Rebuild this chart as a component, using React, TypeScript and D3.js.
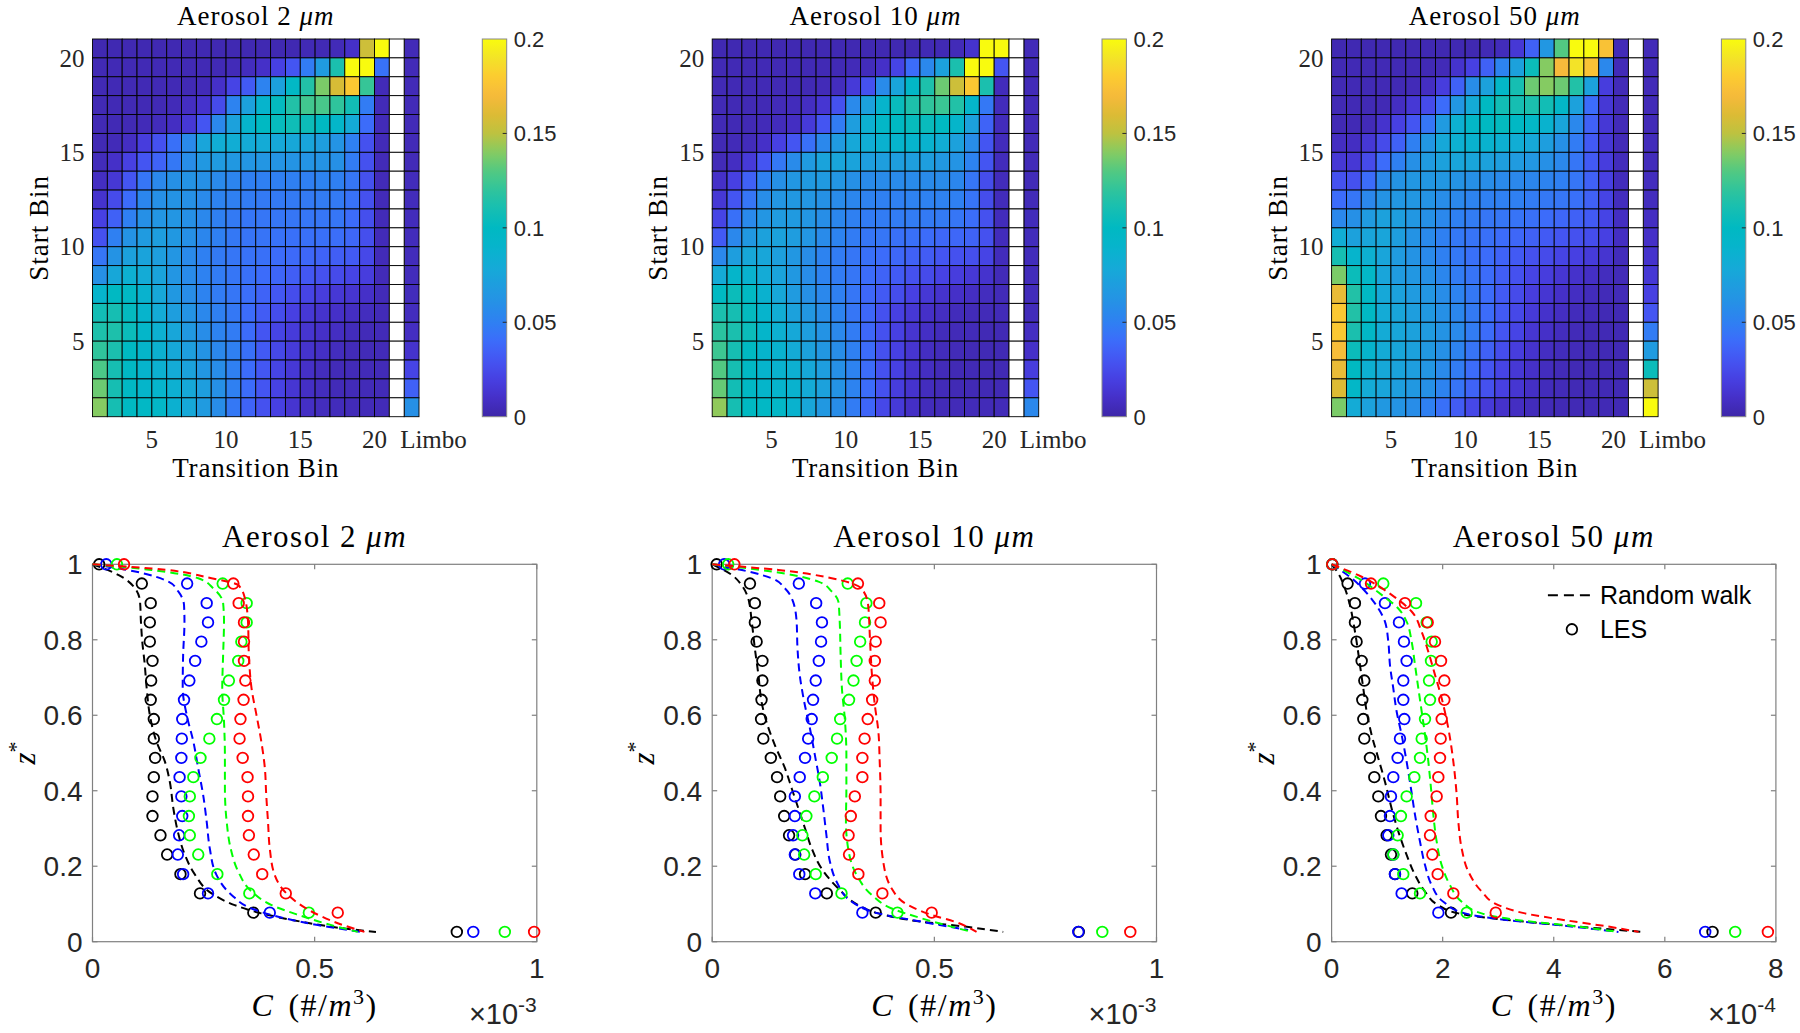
import React from "react";
import * as d3 from "d3";

// ================= DATA =================
const panelSizes = ["2", "10", "50"];
const binTicks = [5, 10, 15, 20];
const colorTicks = [0, 0.05, 0.1, 0.15, 0.2];
const colorTickLabels = ["0", "0.05", "0.1", "0.15", "0.2"];

// parula-like colormap stops (t = 0 .. 1 every 0.05)
const parulaStops = [
  "#3E26A8", "#4530C8", "#4740E2", "#4455F2", "#3C6CFA", "#2F80F2", "#2690E6",
  "#1E9EDE", "#14ABD6", "#06B4CC", "#00B9C2", "#16BEB2", "#2FC49C", "#52C982",
  "#85CB62", "#BDC240", "#DDBB34", "#F6BA3B", "#FCCB30", "#F3E328", "#F9FB0E",
];

// Transition matrices: rows = start bin 20 (top) ... 1 (bottom);
// columns = transition bins 1..20, then Limbo
const hm2um: number[][] = [
  [.003,.003,.003,.003,.003,.003,.003,.003,.003,.003,.003,.003,.003,.003,.004,.004,.005,.01,.155,.21,.005],
  [.004,.004,.004,.004,.004,.004,.004,.004,.004,.005,.007,.01,.02,.03,.048,.068,.112,.2,.2,.043,.005],
  [.004,.004,.004,.004,.004,.004,.004,.005,.01,.022,.032,.052,.072,.097,.115,.138,.158,.178,.122,.005,.005],
  [.004,.004,.004,.004,.004,.005,.008,.012,.025,.052,.072,.09,.102,.115,.125,.127,.12,.108,.048,.005,.005],
  [.004,.004,.004,.005,.006,.008,.015,.03,.055,.072,.09,.1,.103,.107,.106,.1,.093,.08,.04,.005,.005],
  [.004,.005,.008,.018,.028,.042,.056,.075,.082,.082,.08,.08,.078,.077,.075,.07,.063,.05,.028,.005,.005],
  [.006,.01,.02,.03,.036,.046,.058,.066,.068,.066,.064,.064,.063,.063,.063,.062,.06,.048,.028,.005,.005],
  [.008,.015,.03,.045,.055,.06,.062,.06,.056,.053,.05,.05,.05,.05,.05,.052,.05,.045,.028,.005,.006],
  [.012,.025,.04,.054,.06,.062,.06,.056,.052,.05,.048,.047,.047,.047,.047,.048,.047,.043,.028,.005,.006],
  [.02,.035,.05,.06,.064,.064,.06,.055,.05,.047,.045,.045,.045,.045,.045,.045,.045,.04,.027,.005,.006],
  [.028,.05,.062,.068,.07,.066,.06,.054,.05,.046,.044,.044,.043,.042,.042,.042,.041,.038,.027,.005,.006],
  [.045,.062,.072,.074,.07,.064,.056,.05,.047,.045,.043,.042,.04,.039,.038,.036,.034,.032,.024,.005,.006],
  [.06,.077,.085,.08,.074,.064,.057,.051,.048,.045,.042,.04,.037,.034,.031,.028,.025,.022,.018,.005,.006],
  [.09,.1,.098,.088,.077,.066,.058,.052,.048,.045,.041,.036,.031,.026,.022,.018,.015,.013,.01,.005,.006],
  [.108,.11,.102,.09,.08,.07,.062,.055,.05,.046,.04,.033,.026,.02,.015,.012,.01,.008,.007,.005,.007],
  [.113,.113,.105,.093,.085,.076,.066,.058,.052,.048,.04,.03,.022,.017,.013,.01,.008,.006,.005,.005,.008],
  [.12,.112,.1,.092,.086,.078,.07,.062,.055,.05,.042,.032,.024,.017,.012,.009,.007,.005,.005,.005,.012],
  [.128,.11,.098,.09,.086,.08,.073,.065,.058,.05,.04,.031,.022,.015,.01,.007,.005,.005,.005,.005,.022],
  [.135,.11,.098,.092,.09,.085,.078,.07,.06,.05,.04,.03,.021,.014,.009,.007,.005,.005,.005,.005,.035],
  [.14,.11,.1,.097,.095,.086,.078,.068,.058,.046,.036,.028,.02,.013,.009,.007,.006,.005,.005,.005,.06],
];

const hm10um: number[][] = [
  [.003,.003,.003,.003,.003,.003,.003,.003,.003,.003,.003,.003,.003,.003,.004,.004,.005,.012,.205,.21,.005],
  [.004,.004,.004,.004,.004,.004,.004,.004,.004,.005,.006,.01,.022,.04,.055,.072,.112,.2,.2,.03,.005],
  [.004,.004,.004,.004,.004,.004,.004,.005,.007,.016,.028,.057,.075,.096,.113,.135,.155,.178,.112,.006,.005],
  [.004,.004,.004,.004,.005,.006,.008,.014,.028,.056,.072,.09,.104,.113,.12,.123,.115,.092,.046,.006,.005],
  [.004,.004,.004,.005,.006,.008,.016,.03,.048,.07,.085,.095,.1,.103,.104,.1,.092,.072,.036,.006,.005],
  [.004,.005,.006,.01,.02,.03,.042,.055,.068,.078,.082,.087,.09,.09,.088,.082,.072,.058,.03,.006,.005],
  [.005,.008,.016,.03,.046,.057,.068,.074,.075,.074,.07,.07,.07,.07,.07,.066,.063,.052,.03,.006,.005],
  [.01,.02,.035,.05,.06,.065,.067,.067,.064,.06,.057,.057,.057,.057,.057,.057,.054,.045,.026,.006,.005],
  [.015,.03,.045,.058,.064,.066,.064,.061,.057,.054,.051,.05,.05,.051,.051,.051,.05,.044,.026,.006,.005],
  [.022,.042,.056,.064,.068,.067,.064,.059,.054,.05,.048,.048,.048,.048,.047,.047,.045,.041,.028,.006,.006],
  [.032,.055,.066,.072,.073,.069,.064,.057,.052,.048,.045,.045,.042,.042,.04,.038,.038,.036,.028,.006,.006],
  [.055,.07,.077,.076,.071,.065,.058,.052,.048,.045,.042,.04,.038,.035,.033,.03,.028,.027,.022,.006,.006],
  [.08,.092,.088,.08,.074,.066,.058,.052,.048,.045,.04,.036,.032,.028,.025,.021,.018,.015,.012,.005,.006],
  [.1,.105,.099,.087,.077,.068,.06,.055,.05,.045,.038,.032,.026,.02,.015,.012,.01,.008,.007,.005,.006],
  [.112,.11,.102,.09,.082,.072,.065,.058,.052,.045,.038,.028,.02,.015,.01,.008,.006,.005,.005,.005,.006],
  [.118,.112,.105,.092,.085,.078,.07,.062,.055,.048,.038,.028,.02,.013,.009,.006,.005,.005,.004,.004,.008],
  [.124,.11,.1,.09,.088,.08,.072,.065,.058,.05,.04,.028,.02,.013,.008,.006,.005,.004,.004,.004,.01],
  [.13,.11,.098,.09,.088,.085,.078,.07,.06,.052,.04,.028,.02,.012,.008,.005,.004,.004,.004,.004,.018],
  [.134,.108,.098,.092,.09,.088,.08,.072,.062,.052,.04,.028,.018,.012,.007,.005,.004,.004,.004,.004,.03],
  [.142,.11,.1,.097,.095,.088,.076,.066,.058,.048,.037,.024,.016,.009,.006,.005,.005,.005,.005,.005,.055],
];

const hm50um: number[][] = [
  [.003,.003,.003,.003,.003,.003,.003,.003,.003,.003,.004,.006,.015,.035,.065,.13,.205,.205,.175,.005,.005],
  [.004,.004,.004,.004,.004,.004,.004,.005,.012,.02,.035,.052,.072,.105,.14,.17,.19,.175,.055,.005,.005],
  [.004,.004,.004,.004,.004,.005,.008,.018,.035,.058,.072,.095,.11,.135,.14,.135,.115,.072,.018,.005,.005],
  [.004,.004,.004,.004,.008,.015,.025,.04,.065,.08,.1,.108,.11,.112,.108,.095,.072,.04,.015,.005,.005],
  [.004,.004,.005,.012,.02,.03,.045,.068,.085,.095,.1,.102,.098,.095,.088,.075,.055,.035,.015,.005,.005],
  [.008,.008,.015,.025,.035,.05,.065,.078,.085,.088,.088,.085,.082,.078,.07,.06,.048,.032,.015,.005,.006],
  [.015,.015,.025,.04,.05,.06,.068,.072,.075,.075,.072,.07,.068,.065,.06,.055,.045,.032,.018,.006,.006],
  [.028,.028,.04,.055,.062,.065,.065,.065,.062,.06,.058,.056,.055,.054,.052,.05,.045,.035,.02,.006,.007],
  [.04,.045,.055,.062,.065,.065,.062,.058,.055,.052,.05,.05,.05,.048,.046,.045,.042,.035,.022,.007,.007],
  [.055,.06,.068,.072,.07,.065,.06,.055,.05,.048,.045,.045,.044,.042,.04,.038,.035,.032,.022,.008,.008],
  [.082,.072,.075,.075,.07,.062,.056,.05,.046,.044,.042,.04,.038,.035,.032,.03,.028,.026,.02,.008,.01],
  [.11,.09,.085,.075,.068,.062,.056,.05,.046,.042,.04,.036,.032,.028,.025,.022,.02,.017,.013,.006,.012],
  [.138,.105,.095,.075,.068,.065,.06,.054,.048,.044,.04,.034,.028,.022,.018,.014,.011,.009,.007,.005,.015],
  [.165,.115,.098,.078,.072,.068,.064,.058,.052,.046,.04,.032,.025,.018,.014,.01,.008,.006,.005,.005,.02],
  [.178,.115,.098,.08,.075,.07,.066,.06,.054,.047,.04,.032,.024,.016,.011,.008,.006,.005,.004,.004,.03],
  [.178,.112,.096,.08,.076,.072,.068,.062,.056,.048,.04,.03,.022,.014,.01,.007,.005,.004,.004,.004,.048],
  [.172,.105,.09,.08,.076,.072,.066,.06,.052,.044,.035,.026,.018,.012,.008,.006,.005,.004,.004,.004,.068],
  [.165,.1,.085,.078,.074,.07,.064,.056,.048,.04,.03,.022,.015,.01,.007,.005,.004,.004,.004,.004,.105],
  [.16,.095,.08,.075,.07,.066,.06,.052,.044,.036,.028,.02,.014,.009,.006,.005,.004,.004,.004,.004,.155],
  [.138,.08,.072,.066,.063,.058,.05,.042,.033,.024,.016,.011,.008,.006,.005,.004,.004,.004,.004,.004,.205],
];

// Vertical profiles
const zLES = [1, 0.949, 0.897, 0.846, 0.795, 0.744, 0.692, 0.641, 0.59, 0.538, 0.487, 0.436, 0.385, 0.333, 0.282, 0.231, 0.179, 0.128, 0.077, 0.026];
const profileColors = ["#000000", "#0000ff", "#00ff00", "#ff0000"];
const xMaxes = [1, 1, 8];
const xTickSets = [[0, 0.5, 1], [0, 0.5, 1], [0, 2, 4, 6, 8]];
const exponents = ["-3", "-3", "-4"];
const zTicks = [0, 0.2, 0.4, 0.6, 0.8, 1];

// LES concentrations (units of the axis multiplier), ordered as zLES
const les2Black = [0.015,0.111,0.131,0.129,0.129,0.135,0.132,0.131,0.138,0.138,0.141,0.138,0.135,0.135,0.153,0.168,0.198,0.242,0.362,0.820];
const les2Blue = [0.031,0.213,0.257,0.260,0.245,0.231,0.218,0.206,0.202,0.201,0.200,0.196,0.200,0.202,0.195,0.192,0.204,0.260,0.399,0.857];
const les2Green = [0.055,0.293,0.347,0.347,0.335,0.328,0.307,0.296,0.280,0.263,0.243,0.227,0.219,0.217,0.219,0.238,0.281,0.353,0.487,0.928];
const les2Red = [0.071,0.317,0.329,0.341,0.341,0.341,0.344,0.340,0.333,0.331,0.338,0.349,0.350,0.350,0.352,0.363,0.382,0.435,0.552,0.994];

const les10Black = [0.010,0.085,0.096,0.096,0.100,0.113,0.113,0.111,0.110,0.115,0.132,0.146,0.153,0.162,0.173,0.187,0.209,0.258,0.368,0.825];
const les10Blue = [0.027,0.195,0.234,0.247,0.245,0.240,0.233,0.227,0.224,0.216,0.209,0.197,0.186,0.186,0.182,0.186,0.196,0.232,0.338,0.824];
const les10Green = [0.036,0.305,0.347,0.344,0.333,0.325,0.318,0.308,0.288,0.281,0.269,0.249,0.230,0.212,0.203,0.207,0.233,0.291,0.417,0.878];
const les10Red = [0.050,0.328,0.376,0.379,0.368,0.366,0.366,0.360,0.350,0.343,0.338,0.338,0.321,0.312,0.307,0.308,0.329,0.383,0.494,0.941];

const les50Black = [0.012,0.288,0.420,0.420,0.450,0.541,0.589,0.553,0.571,0.589,0.691,0.769,0.841,0.889,0.991,1.069,1.141,1.453,2.150,6.859];
const les50Blue = [0.012,0.601,0.961,1.213,1.303,1.351,1.291,1.291,1.309,1.231,1.189,1.111,1.069,1.051,1.021,1.111,1.141,1.261,1.922,6.727];
const les50Green = [0.012,0.931,1.520,1.712,1.802,1.790,1.754,1.772,1.682,1.622,1.592,1.490,1.351,1.249,1.189,1.111,1.291,1.592,2.432,7.267];
const les50Red = [0.012,0.709,1.321,1.730,1.862,1.970,2.030,2.030,1.982,1.964,1.952,1.922,1.892,1.784,1.772,1.814,1.910,2.192,2.955,7.856];

// Random walk profiles: [C, z*]
const rw2Black: [number, number][] = [[0,1],[0.058,0.972],[0.096,0.936],[0.107,0.901],[0.109,0.848],[0.112,0.795],[0.117,0.742],[0.122,0.671],[0.129,0.601],[0.144,0.530],[0.163,0.477],[0.174,0.424],[0.182,0.353],[0.192,0.292],[0.208,0.230],[0.231,0.177],[0.268,0.128],[0.320,0.097],[0.380,0.075],[0.470,0.053],[0.567,0.035],[0.638,0.026]];
const rw2Blue: [number, number][] = [[0,1],[0.096,0.981],[0.171,0.954],[0.193,0.928],[0.206,0.892],[0.207,0.848],[0.204,0.760],[0.203,0.671],[0.212,0.601],[0.227,0.530],[0.238,0.459],[0.249,0.389],[0.257,0.318],[0.264,0.247],[0.279,0.177],[0.313,0.124],[0.358,0.088],[0.433,0.062],[0.507,0.044],[0.605,0.026]];
const rw2Green: [number, number][] = [[0,1],[0.133,0.985],[0.238,0.963],[0.272,0.936],[0.294,0.897],[0.296,0.848],[0.294,0.760],[0.292,0.671],[0.296,0.583],[0.298,0.495],[0.298,0.406],[0.302,0.318],[0.311,0.247],[0.328,0.186],[0.358,0.133],[0.403,0.097],[0.463,0.071],[0.522,0.049],[0.597,0.026]];
const rw2Red: [number, number][] = [[0,1],[0.133,0.989],[0.268,0.963],[0.328,0.945],[0.343,0.910],[0.350,0.848],[0.352,0.760],[0.358,0.671],[0.369,0.601],[0.380,0.530],[0.388,0.459],[0.391,0.389],[0.395,0.318],[0.399,0.247],[0.410,0.177],[0.440,0.124],[0.493,0.080],[0.552,0.049],[0.612,0.026]];

const rw10Black: [number, number][] = [[0,1],[0.044,0.972],[0.066,0.945],[0.081,0.910],[0.089,0.848],[0.096,0.777],[0.104,0.707],[0.111,0.636],[0.122,0.583],[0.141,0.521],[0.164,0.459],[0.179,0.406],[0.194,0.353],[0.209,0.300],[0.224,0.247],[0.246,0.194],[0.284,0.141],[0.329,0.097],[0.374,0.075],[0.471,0.053],[0.569,0.040],[0.655,0.026]];
const rw10Blue: [number, number][] = [[0,1],[0.081,0.981],[0.134,0.963],[0.164,0.936],[0.182,0.901],[0.190,0.848],[0.192,0.777],[0.197,0.707],[0.207,0.636],[0.220,0.565],[0.231,0.495],[0.242,0.424],[0.250,0.353],[0.257,0.283],[0.265,0.212],[0.280,0.159],[0.314,0.106],[0.374,0.075],[0.471,0.053],[0.576,0.031]];
const rw10Green: [number, number][] = [[0,1],[0.134,0.981],[0.239,0.954],[0.269,0.928],[0.284,0.901],[0.287,0.848],[0.289,0.760],[0.292,0.671],[0.299,0.583],[0.302,0.495],[0.302,0.406],[0.301,0.318],[0.306,0.247],[0.325,0.177],[0.359,0.124],[0.404,0.088],[0.471,0.062],[0.584,0.026]];
const rw10Red: [number, number][] = [[0,1],[0.149,0.985],[0.269,0.963],[0.336,0.936],[0.351,0.892],[0.355,0.804],[0.359,0.716],[0.366,0.627],[0.374,0.557],[0.377,0.477],[0.379,0.389],[0.379,0.300],[0.385,0.212],[0.404,0.141],[0.441,0.097],[0.494,0.071],[0.546,0.053],[0.595,0.026]];

const rw50Black: [number, number][] = [[0,1],[0.120,0.976],[0.240,0.936],[0.330,0.892],[0.390,0.848],[0.450,0.795],[0.511,0.733],[0.571,0.671],[0.631,0.610],[0.721,0.548],[0.841,0.486],[0.961,0.424],[1.081,0.353],[1.201,0.292],[1.351,0.230],[1.502,0.177],[1.682,0.133],[1.922,0.097],[2.282,0.075],[2.883,0.062],[3.784,0.049],[4.685,0.037],[5.586,0.026]];
const rw50Blue: [number, number][] = [[0,1],[0.360,0.963],[0.661,0.919],[0.841,0.883],[0.961,0.848],[1.021,0.795],[1.051,0.733],[1.111,0.671],[1.171,0.610],[1.261,0.548],[1.351,0.477],[1.429,0.406],[1.502,0.336],[1.592,0.265],[1.682,0.203],[1.802,0.150],[2.012,0.106],[2.402,0.075],[3.183,0.057],[4.084,0.044],[5.165,0.026]];
const rw50Green: [number, number][] = [[0,1],[0.480,0.963],[0.901,0.919],[1.201,0.883],[1.351,0.848],[1.441,0.795],[1.502,0.733],[1.562,0.671],[1.622,0.610],[1.682,0.548],[1.742,0.477],[1.790,0.406],[1.832,0.336],[1.892,0.265],[1.982,0.203],[2.132,0.150],[2.342,0.106],[2.703,0.075],[3.363,0.057],[4.204,0.044],[5.165,0.026]];
const rw50Red: [number, number][] = [[0,1],[0.541,0.967],[1.081,0.919],[1.441,0.875],[1.622,0.821],[1.742,0.768],[1.862,0.707],[1.982,0.645],[2.102,0.565],[2.192,0.477],[2.252,0.389],[2.282,0.318],[2.342,0.247],[2.462,0.186],[2.703,0.133],[3.003,0.097],[3.483,0.075],[4.204,0.057],[4.985,0.040],[5.526,0.026]];

const heatmaps = [hm2um, hm10um, hm50um];
const lesSets = [
  [les2Black, les2Blue, les2Green, les2Red],
  [les10Black, les10Blue, les10Green, les10Red],
  [les50Black, les50Blue, les50Green, les50Red],
];
const rwSets = [
  [rw2Black, rw2Blue, rw2Green, rw2Red],
  [rw10Black, rw10Blue, rw10Green, rw10Red],
  [rw50Black, rw50Blue, rw50Green, rw50Red],
];

// ================= LAYOUT =================
const W = 1800, H = 1033;
const PANEL_X = [92.5, 712.2, 1331.6];
const HM_W = 326.5, HM_TOP = 39, HM_BOTTOM = 416.7;
const CB_DX = 389.8, CB_W = 24.4;
const PR_W = 444.3, PR_TOP = 564.3, PR_BOTTOM = 941.7;
const SERIF = "'Liberation Serif', 'Times New Roman', serif";
const SANS = "'Liberation Sans', Arial, Helvetica, sans-serif";
const TXT = "#262626";

const tStops = parulaStops.map((_, i) => i / (parulaStops.length - 1));
const parulaT = d3.scaleLinear<string>().domain(tStops).range(parulaStops).interpolate(d3.interpolateRgb).clamp(true);
const colorOf = (v: number) => parulaT(v / 0.2);

function Heatmap({ idx }: { idx: number }) {
  const ox = PANEL_X[idx];
  const data = heatmaps[idx];
  const x = d3.scaleLinear().domain([1, 23]).range([ox, ox + HM_W]);
  const y = d3.scaleLinear().domain([1, 21]).range([HM_BOTTOM, HM_TOP]);
  const cy = d3.scaleLinear().domain([0, 0.2]).range([HM_BOTTOM, HM_TOP]);
  const cells: JSX.Element[] = [];
  data.forEach((row, r) => {
    const bin = 20 - r;
    const y0 = y(bin + 1), y1 = y(bin);
    row.forEach((v, c) => {
      const xi = c < 20 ? c + 1 : 22;
      cells.push(
        <rect key={`c${r}-${c}`} x={x(xi)} y={y0} width={x(xi + 1) - x(xi)} height={y1 - y0}
          fill={colorOf(v)} stroke="#000" strokeWidth={0.9} />
      );
    });
    cells.push(
      <rect key={`w${r}`} x={x(21)} y={y0} width={x(22) - x(21)} height={y1 - y0}
        fill="#fff" stroke="#000" strokeWidth={0.9} />
    );
  });
  const cbx = ox + CB_DX;
  const cx = ox + HM_W / 2;
  return (
    <g>
      <text x={cx} y={25} textAnchor="middle" fontFamily={SERIF} fontSize={27} letterSpacing={1} fill="#000">
        Aerosol {panelSizes[idx]} <tspan fontStyle="italic">μm</tspan>
      </text>
      {cells}
      {binTicks.map((t) => (
        <text key={`yt${t}`} x={ox - 8} y={y(t)} dy="0.35em" textAnchor="end" fontFamily={SERIF} fontSize={25} fill={TXT}>{t}</text>
      ))}
      {binTicks.map((t) => (
        <text key={`xt${t}`} x={x(t)} y={448} textAnchor="middle" fontFamily={SERIF} fontSize={25} fill={TXT}>{t}</text>
      ))}
      <text x={x(22) - 4} y={448} textAnchor="start" fontFamily={SERIF} fontSize={25} fill={TXT}>Limbo</text>
      <text x={cx} y={477} textAnchor="middle" fontFamily={SERIF} fontSize={27} letterSpacing={0.8} fill="#000">Transition Bin</text>
      <text transform={`translate(${ox - 45},${(HM_TOP + HM_BOTTOM) / 2}) rotate(-90)`} textAnchor="middle"
        fontFamily={SERIF} fontSize={27} letterSpacing={1} fill="#000">Start Bin</text>
      {/* colorbar */}
      <rect x={cbx} y={HM_TOP} width={CB_W} height={HM_BOTTOM - HM_TOP} fill="url(#parulaGrad)" stroke="#8a8a8a" strokeWidth={1} />
      {colorTicks.map((t, i) => (
        <g key={`cb${i}`}>
          {i > 0 && i < colorTicks.length - 1 && (
            <line x1={cbx + CB_W} x2={cbx + CB_W - 4} y1={cy(t)} y2={cy(t)} stroke={TXT} strokeWidth={1} />
          )}
          <text x={cbx + CB_W + 7} y={cy(t)} dy="0.36em" fontFamily={SANS} fontSize={22} fill={TXT}>{colorTickLabels[i]}</text>
        </g>
      ))}
    </g>
  );
}

function Profile({ idx }: { idx: number }) {
  const ox = PANEL_X[idx];
  const x = d3.scaleLinear().domain([0, xMaxes[idx]]).range([ox, ox + PR_W]);
  const y = d3.scaleLinear().domain([0, 1]).range([PR_BOTTOM, PR_TOP]);
  const line = d3.line<[number, number]>().x((d) => x(d[0])).y((d) => y(d[1])).curve(d3.curveMonotoneY);
  const cx = ox + PR_W / 2;
  const tl = 5;
  return (
    <g>
      <text x={cx} y={547} textAnchor="middle" fontFamily={SERIF} fontSize={31} letterSpacing={1.5} fill="#000">
        Aerosol {panelSizes[idx]} <tspan fontStyle="italic">μm</tspan>
      </text>
      <rect x={ox} y={PR_TOP} width={PR_W} height={PR_BOTTOM - PR_TOP} fill="#fff" stroke="#808080" strokeWidth={1.2} />
      {xTickSets[idx].map((t) => (
        <g key={`px${t}`}>
          <line x1={x(t)} x2={x(t)} y1={PR_BOTTOM} y2={PR_BOTTOM - tl} stroke="#808080" strokeWidth={1.2} />
          <line x1={x(t)} x2={x(t)} y1={PR_TOP} y2={PR_TOP + tl} stroke="#808080" strokeWidth={1.2} />
          <text x={x(t)} y={978} textAnchor="middle" fontFamily={SANS} fontSize={28} fill={TXT}>{String(t)}</text>
        </g>
      ))}
      {zTicks.map((t) => (
        <g key={`pz${t}`}>
          <line x1={ox} x2={ox + tl} y1={y(t)} y2={y(t)} stroke="#808080" strokeWidth={1.2} />
          <line x1={ox + PR_W} x2={ox + PR_W - tl} y1={y(t)} y2={y(t)} stroke="#808080" strokeWidth={1.2} />
          <text x={ox - 10} y={y(t)} dy="0.36em" textAnchor="end" fontFamily={SANS} fontSize={28} fill={TXT}>{String(t)}</text>
        </g>
      ))}
      {profileColors.map((col, k) => (
        <g key={`s${k}`}>
          <path d={line(rwSets[idx][k]) || ""} fill="none" stroke={col} strokeWidth={2} strokeDasharray="8 5" />
          {lesSets[idx][k].map((v, j) => (
            <circle key={j} cx={x(v)} cy={y(zLES[j])} r={5.3} fill="none" stroke={col} strokeWidth={1.8} />
          ))}
        </g>
      ))}
      <text x={cx} y={1016} textAnchor="middle" fontFamily={SERIF} fontSize={32} letterSpacing={1.5} fill="#000">
        <tspan fontStyle="italic">C</tspan>
        <tspan dx={14}>(#/</tspan>
        <tspan fontStyle="italic">m</tspan>
        <tspan dy={-12} fontSize={22}>3</tspan>
        <tspan dy={12}>)</tspan>
      </text>
      <text x={ox + PR_W} y={1024} textAnchor="end" fontFamily={SANS} fontSize={29} fill={TXT}>
        ×10<tspan dy={-12} fontSize={21}>{exponents[idx]}</tspan>
      </text>
      <text transform={`translate(${ox - 58},${(PR_TOP + PR_BOTTOM) / 2}) rotate(-90)`} textAnchor="middle"
        fontFamily={SERIF} fontSize={31} fill="#000">
        <tspan fontStyle="italic">z</tspan>
        <tspan dy={-12} fontSize={22}>*</tspan>
      </text>
      {idx === 2 && (
        <g>
          <line x1={ox + PR_W - 228} x2={ox + PR_W - 181} y1={PR_TOP + 31} y2={PR_TOP + 31} stroke="#000" strokeWidth={2} strokeDasharray="10 6" />
          <text x={ox + PR_W - 176} y={PR_TOP + 40} fontFamily={SANS} fontSize={25} fill="#000">Random walk</text>
          <circle cx={ox + PR_W - 204} cy={PR_TOP + 65} r={5.3} fill="none" stroke="#000" strokeWidth={1.8} />
          <text x={ox + PR_W - 176} y={PR_TOP + 74} fontFamily={SANS} fontSize={25} fill="#000">LES</text>
        </g>
      )}
    </g>
  );
}

export default function App() {
  const gradStops = d3.range(0, 1.0001, 1 / 64);
  return (
    <svg width={W} height={H} viewBox={`0 0 ${W} ${H}`}
      style={{ position: "absolute", left: 0, top: 0, display: "block", background: "#fff" }}>
      <defs>
        <linearGradient id="parulaGrad" x1="0" y1="1" x2="0" y2="0">
          {gradStops.map((t, i) => (
            <stop key={i} offset={t} stopColor={parulaT(t)} />
          ))}
        </linearGradient>
      </defs>
      <rect x={0} y={0} width={W} height={H} fill="#fff" />
      {[0, 1, 2].map((i) => <Heatmap key={`h${i}`} idx={i} />)}
      {[0, 1, 2].map((i) => <Profile key={`p${i}`} idx={i} />)}
    </svg>
  );
}
